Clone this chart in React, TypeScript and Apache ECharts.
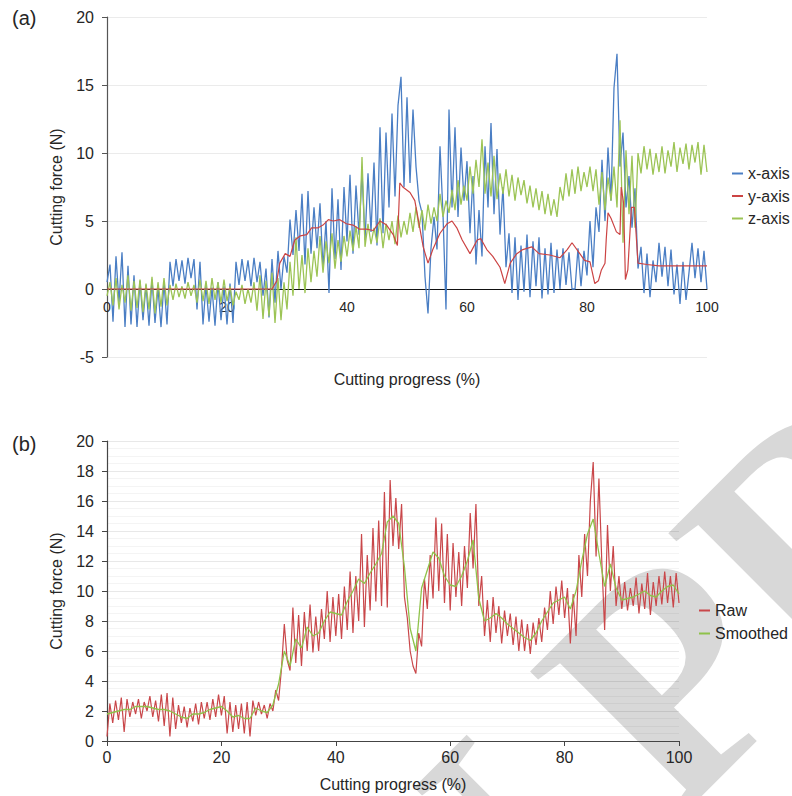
import { useEffect, useRef } from "react";
import * as echarts from "echarts";

// ---------- data ----------
// sampling positions (cutting progress %) for the dense series
const progressFine: number[] = Array.from({ length: 201 }, (_, i) => i * 0.5);
const progressCoarse: number[] = Array.from({ length: 101 }, (_, i) => i);

// (a) x-axis force, every 0.5 %
const xAxisForce: number[] = [
  0.5, 1.8, -2.4, 2.4, -1.0, 2.7, -2.8, 1.7, -2.6, 1.0,
  -2.8, 0.6, -2.3, 0.3, -2.7, 0.7, -2.5, 0.1, -2.8, 0.5,
  -2.6, 2.0, 0.2, 2.2, 0.6, 2.1, 0.4, 2.3, 0.8, 2.2,
  -1.5, 2.0, -2.6, 0.3, -2.4, 0.1, -2.7, 0.5, -2.3, 0.2,
  -2.6, 0.4, -2.5, 2.0, 0.3, 2.2, 0.6, 2.1, 0.2, 2.3,
  0.5, 2.0, -0.5, 1.5, -2.1, 2.2, -1.0, 2.8, 0.0, 2.4,
  1.2, 5.1, 2.5, 5.8, 2.8, 7.0, 1.8, 7.2, 2.6, 6.0,
  3.0, 6.3, 1.5, 5.0, -0.3, 7.4, 2.2, 6.6, 1.4, 7.5,
  3.5, 8.4, 2.6, 7.6, 4.0, 8.6, 3.6, 8.5, 4.2, 9.3,
  3.2, 11.9, 4.1, 11.5, 6.0, 12.9, 6.8, 13.5, 15.6, 7.5,
  14.1, 7.8, 13.2, 9.0, 6.5, 5.6, 0.9, -1.8, 3.0, 5.3,
  2.9, 10.5, 5.5, -1.5, 13.2, 6.0, 11.9, 5.3, 10.4, 6.5,
  9.4, 4.1, 8.3, 1.8, 5.8, 2.4, 10.5, 6.0, 12.2, 5.5,
  10.3, 4.0, 7.5, 1.6, 4.1, -0.3, 3.8, -0.8, 3.2, -0.2,
  4.0, -0.6, 3.5, 0.2, 3.8, -0.7, 3.0, -0.4, 3.4, -0.3,
  2.9, 0.0, 3.0, 0.3, 2.7, 0.0, 0.0, 3.0, 0.2, 2.8,
  1.0, 5.0, 1.6, 6.0, 4.2, 9.5, 5.0, 10.4, 6.5, 14.8,
  17.3, 9.0, 11.5, 6.0, 8.3, 4.5, 7.4, 1.5, 3.1, -0.3,
  2.6, -0.6, 2.1, 0.5, 3.4, 0.9, 3.1, 0.2, 2.9, -0.4,
  1.8, -1.1, 2.0, -0.8, 1.2, 3.4, 0.8, 3.0, 0.5, 2.8,
  0.0,
];

// (a) z-axis force, every 0.5 %
const zAxisForce: number[] = [
  -0.5, 0.5, -1.2, 0.8, -1.5, 0.3, -1.0, 1.0, -1.6, 0.6,
  -1.4, 0.7, -1.7, 0.4, -1.5, 0.9, -1.8, 0.5, -1.3, 0.8,
  -1.2, 0.3, -0.8, 0.4, -0.6, 0.2, -0.7, 0.5, -0.5, 0.3,
  -1.0, 0.7, -0.9, 0.6, -1.1, 0.8, -0.8, 0.5, -1.0, 0.7,
  -0.9, 0.2, -1.2, -0.2, -0.8, 0.3, -1.1, 0.0, -1.0, 0.5,
  -1.6, 1.0, -2.2, 0.6, -2.0, 1.2, -2.5, 0.8, -2.3, 0.5,
  -1.5, 2.0, -0.5, 3.8, 0.0, 2.5, -0.3, 3.0, 0.5, 2.8,
  0.9, 3.9, 1.2, 3.5, 1.9, 4.1, 1.5, 3.6, 2.0, 3.9,
  2.4, 4.3, 2.8, 4.6, 3.0, 9.7, 3.1, 4.8, 3.3, 4.5,
  3.4, 5.2, 3.0, 4.8, 3.6, 5.0, 3.3, 5.4, 3.8, 5.0,
  4.0, 5.6, 4.2, 6.0, 4.5, 5.8, 4.3, 6.2, 4.8, 6.0,
  5.0, 7.0, 5.3, 6.5, 5.6, 7.3, 5.8, 8.0, 6.2, 7.6,
  6.5, 9.0, 7.0, 9.5, 7.5, 11.0, 7.0, 9.3, 6.8, 9.8,
  6.6, 8.5, 7.0, 8.8, 6.8, 8.4, 6.5, 8.2, 6.9, 8.0,
  6.3, 7.6, 6.0, 7.4, 5.8, 7.2, 5.5, 7.0, 5.4, 6.6,
  5.3, 7.5, 6.5, 8.5, 6.8, 8.8, 7.0, 9.0, 7.2, 8.6,
  7.5, 9.0, 7.2, 8.8, 6.2, 8.6, 5.8, 8.2, 6.5, 9.0,
  6.0, 12.4, 3.4, 10.2, 5.5, 9.8, 4.5, 10.0, 8.5, 10.5,
  8.8, 10.3, 8.4, 10.0, 8.6, 10.5, 8.5, 10.2, 9.0, 10.8,
  8.6, 10.4, 9.2, 10.7, 8.8, 10.6, 9.3, 10.8, 8.4, 10.6,
  8.6,
];

// (a) y-axis force, read at irregular progress positions
const yAxisProgress: number[] = [
  0, 27.5, 28.3, 28.8, 29.7, 30.5, 31.3, 32.2, 33.3, 34.1, 35.2, 36, 36.9, 37.7, 38.8, 39.9,
  41, 42.1, 43.2, 44.4, 45.5, 46.6, 47.7, 48.4, 48.8, 49.3, 50.5, 51.3, 51.8, 52.7, 53.5, 54.3,
  55.5, 56.7, 57.5, 58.3, 59.2, 60.5, 61.7, 62.3, 63.3, 64.3, 65.5, 66.3, 67.2, 68.3, 69.3, 70.8,
  72, 73.8, 75.5, 76.7, 77.5, 78.8, 79.6, 80.5, 81.3, 81.9, 82.4, 83, 83.2, 83.5, 84, 84.9,
  85.5, 85.7, 86.1, 86.4, 86.8, 87.4, 87.9, 88.5, 90, 92, 95, 98, 100,
];
const yAxisForce: number[] = [
  0, 0, 0.6, 1.9, 2.6, 2.4, 3.6, 3.9, 4.0, 4.5, 4.5, 4.7, 5.1, 5.0, 5.1, 4.8,
  4.7, 4.4, 4.4, 4.3, 5.0, 4.7, 4.0, 3.2, 7.8, 7.5, 7.1, 6.5, 5.3, 3.1, 1.9, 2.9,
  4.1, 4.8, 5.0, 4.5, 3.6, 2.6, 3.6, 3.7, 2.9, 2.4, 1.6, 0.4, 1.9, 2.6, 2.9, 3.1,
  2.6, 2.5, 2.3, 2.9, 3.4, 2.6, 2.1, 2.0, 0.4, 0.6, 1.4, 1.9, 3.6, 5.6, 5.2, 4.2,
  4.0, 7.5, 6.3, 0.7, 1.4, 6.0, 6.0, 1.9, 1.8, 1.7, 1.7, 1.7, 1.7,
];

// (b) raw total force, every 0.5 %
const rawForce: number[] = [
  0.3, 2.5, 1.2, 2.7, 1.4, 2.9, 0.6, 2.8, 1.6, 2.6,
  1.8, 2.8, 1.5, 2.6, 2.0, 3.0, 1.6, 2.7, 1.3, 3.1,
  1.0, 3.2, 0.3, 2.9, 0.8, 2.4, 1.2, 2.3, 0.9, 2.2,
  1.3, 2.5, 1.1, 2.6, 1.5, 2.6, 1.4, 2.8, 1.6, 3.1,
  1.7, 3.0, 0.5, 2.6, 0.6, 2.4, 0.8, 2.5, 0.5, 2.6,
  0.3, 2.7, 1.7, 2.6, 1.8, 2.4, 1.5, 2.5, 2.0, 3.4,
  2.7, 4.8, 7.8, 5.4, 4.7, 8.9, 5.2, 8.4, 5.0, 8.6,
  6.0, 9.1, 5.9, 8.3, 6.0, 8.8, 6.8, 10.0, 6.6, 9.6,
  7.0, 9.8, 6.8, 10.3, 7.4, 11.3, 7.2, 11.0, 8.0, 13.8,
  7.6, 12.4, 8.7, 14.2, 9.3, 14.7, 9.0, 16.6, 8.9, 17.4,
  13.0, 16.2, 12.8, 15.8, 9.6, 8.2, 6.0, 5.0, 4.5, 7.2,
  6.3, 10.8, 8.8, 12.4, 9.5, 14.9, 10.0, 14.5, 9.2, 13.8,
  8.7, 13.2, 9.6, 12.6, 9.0, 13.0, 10.2, 15.2, 11.5, 15.8,
  9.0, 11.0, 7.0, 9.4, 6.6, 9.6, 7.2, 9.0, 6.5, 8.7,
  7.0, 8.5, 6.4, 8.3, 6.0, 8.1, 6.0, 7.8, 5.8, 7.9,
  6.4, 8.2, 6.6, 8.9, 7.4, 10.0, 7.8, 10.3, 8.4, 10.7,
  8.2, 10.2, 6.5, 9.8, 7.0, 12.4, 9.6, 13.8, 11.0, 16.0,
  18.6, 12.3, 17.5, 12.0, 7.4, 14.4, 10.0, 13.0, 9.0, 11.0,
  8.8, 10.6, 8.7, 10.2, 9.0, 10.9, 8.5, 10.5, 8.8, 11.2,
  8.4, 10.6, 9.0, 11.0, 9.1, 11.3, 9.2, 11.0, 8.9, 11.2,
  9.2,
];

// (b) smoothed total force, every 1 %
const smoothedForce: number[] = [
  1.8, 1.9, 2.0, 2.1, 2.1, 2.3, 2.3, 2.3, 2.2, 2.1,
  2.1, 2.0, 1.8, 1.6, 1.5, 1.8, 1.8, 1.9, 2.1, 2.2,
  2.3, 2.0, 1.6, 1.7, 1.5, 1.5, 2.2, 2.0, 1.9, 2.4,
  3.8, 6.0, 5.0, 6.8, 6.2, 7.6, 7.0, 7.2, 8.0, 8.6,
  8.5, 8.4, 9.3, 10.0, 10.8, 10.5, 11.2, 11.8, 12.5, 14.6,
  15.0, 14.5, 11.6, 7.5, 6.0, 10.2, 11.4, 12.6, 12.2, 11.0,
  10.4, 10.3, 11.0, 12.0, 13.4, 9.5, 8.0, 8.2, 8.5, 8.2,
  7.8, 7.5, 7.2, 6.9, 6.7, 7.2, 8.0, 8.6, 9.2, 9.4,
  9.6, 8.8, 10.0, 12.0, 13.8, 14.8, 12.5, 10.3, 11.8, 10.2,
  9.4, 9.5, 9.6, 9.8, 10.0, 9.7, 9.6, 10.0, 10.3, 10.4,
  9.8,
];

const topLegend = ["x-axis", "y-axis", "z-axis"];
const bottomLegend = ["Raw", "Smoothed"];

const FONT = "'Liberation Sans', Arial, sans-serif";
const TXT = "#262626";

function pairs(xs: number[], ys: number[]) {
  return ys.map((v, i) => [xs[i], v]);
}

export default function App() {
  const ref = useRef<HTMLDivElement>(null);
  useEffect(() => {
    document.body.style.margin = "0";
    if (!ref.current) return;
    const chart = echarts.init(ref.current, null, { renderer: "svg" });
    const yName = {
      name: "Cutting force (N)",
      nameLocation: "middle" as const,
      nameGap: 43,
      nameTextStyle: { fontSize: 16, color: TXT, fontFamily: FONT },
    };
    chart.setOption({
      animation: false,
      backgroundColor: "#ffffff",
      textStyle: { fontFamily: FONT },
      grid: [
        { left: 107, top: 17, width: 600, height: 340 },
        { left: 107, top: 441, width: 572, height: 300 },
      ],
      xAxis: [
        {
          gridIndex: 0,
          type: "value",
          min: 0,
          max: 100,
          interval: 20,
          offset: -68,
          name: "Cutting progress (%)",
          nameLocation: "middle",
          nameGap: 82,
          nameTextStyle: { fontSize: 16, color: TXT, fontFamily: FONT, verticalAlign: "top" },
          axisLine: { onZero: false, lineStyle: { color: "#111", width: 1 } },
          axisTick: { show: false },
          axisLabel: { fontSize: 14, color: TXT, margin: 11, fontFamily: FONT },
          splitLine: { show: false },
        },
        {
          gridIndex: 1,
          type: "value",
          min: 0,
          max: 100,
          interval: 20,
          name: "Cutting progress (%)",
          nameLocation: "middle",
          nameGap: 35,
          nameTextStyle: { fontSize: 16, color: TXT, fontFamily: FONT, verticalAlign: "top" },
          axisLine: { lineStyle: { color: "#444", width: 1 } },
          axisTick: { show: true, length: 5, lineStyle: { color: "#444" } },
          axisLabel: { fontSize: 16, color: TXT, margin: 8, fontFamily: FONT },
          splitLine: { show: false },
        },
      ],
      yAxis: [
        {
          gridIndex: 0,
          type: "value",
          min: -5,
          max: 20,
          interval: 5,
          ...yName,
          axisLine: { show: true, onZero: false, lineStyle: { color: "#555", width: 1.2 } },
          axisTick: { show: true, length: 5, lineStyle: { color: "#555" } },
          axisLabel: { fontSize: 16, color: TXT, margin: 13, fontFamily: FONT },
          splitLine: { show: true, lineStyle: { color: "rgba(0,0,0,0.08)", width: 1 } },
        },
        {
          gridIndex: 1,
          type: "value",
          min: 0,
          max: 20,
          interval: 2,
          ...yName,
          axisLine: { show: true, lineStyle: { color: "#444", width: 1.2 } },
          axisTick: { show: true, length: 5, lineStyle: { color: "#444" } },
          axisLabel: { fontSize: 16, color: TXT, margin: 13, fontFamily: FONT },
          splitLine: { show: true, lineStyle: { color: "rgba(0,0,0,0.09)", width: 1 } },
          minorTick: { show: false, splitNumber: 4 },
          minorSplitLine: { show: true, lineStyle: { color: "rgba(0,0,0,0.045)", width: 1 } },
        },
      ],
      legend: [
        {
          data: topLegend,
          orient: "vertical",
          left: 727,
          top: 160,
          icon: "rect",
          itemWidth: 11,
          itemHeight: 2,
          itemGap: 5.5,
          textStyle: { fontSize: 16, color: TXT, fontFamily: FONT, lineHeight: 17 },
        },
        {
          data: bottomLegend,
          orient: "vertical",
          left: 694,
          top: 597,
          icon: "rect",
          itemWidth: 11,
          itemHeight: 2,
          itemGap: 6,
          textStyle: { fontSize: 16, color: TXT, fontFamily: FONT, lineHeight: 17 },
        },
      ],
      graphic: [
        {
          type: "text",
          left: 12,
          top: 8,
          style: { text: "(a)", fontSize: 20, fill: TXT, fontFamily: FONT },
        },
        {
          type: "text",
          left: 12,
          top: 434,
          style: { text: "(b)", fontSize: 20, fill: TXT, fontFamily: FONT },
        },
        {
          type: "text",
          x: 290,
          y: 1055,
          rotation: Math.PI / 4,
          z: -10,
          silent: true,
          style: {
            text: "IN PRESS",
            fontSize: 320,
            fontWeight: "bold",
            fontFamily: "'Liberation Serif', 'DejaVu Serif', serif",
            fill: "#d8d8d8",
            align: "left",
            verticalAlign: "middle",
          },
        },
      ],
      series: [
        {
          name: "x-axis",
          type: "line",
          xAxisIndex: 0,
          yAxisIndex: 0,
          data: pairs(progressFine, xAxisForce),
          showSymbol: false,
          lineStyle: { color: "#4a7ec4", width: 1.3 },
          itemStyle: { color: "#4a7ec4" },
          z: 3,
        },
        {
          name: "y-axis",
          type: "line",
          xAxisIndex: 0,
          yAxisIndex: 0,
          data: pairs(yAxisProgress, yAxisForce),
          showSymbol: false,
          lineStyle: { color: "#cc4444", width: 1.2 },
          itemStyle: { color: "#cc4444" },
          z: 5,
        },
        {
          name: "z-axis",
          type: "line",
          xAxisIndex: 0,
          yAxisIndex: 0,
          data: pairs(progressFine, zAxisForce),
          showSymbol: false,
          lineStyle: { color: "#9cc455", width: 1.3 },
          itemStyle: { color: "#9cc455" },
          z: 4,
        },
        {
          name: "Raw",
          type: "line",
          xAxisIndex: 1,
          yAxisIndex: 1,
          data: pairs(progressFine, rawForce),
          showSymbol: false,
          lineStyle: { color: "#c9474a", width: 1.2 },
          itemStyle: { color: "#c9474a" },
          z: 3,
        },
        {
          name: "Smoothed",
          type: "line",
          xAxisIndex: 1,
          yAxisIndex: 1,
          data: pairs(progressCoarse, smoothedForce),
          showSymbol: false,
          lineStyle: { color: "#8fc24a", width: 1.3 },
          itemStyle: { color: "#8fc24a" },
          z: 4,
        },
      ],
    });
    return () => chart.dispose();
  }, []);
  return <div ref={ref} style={{ width: 792, height: 796 }} />;
}
